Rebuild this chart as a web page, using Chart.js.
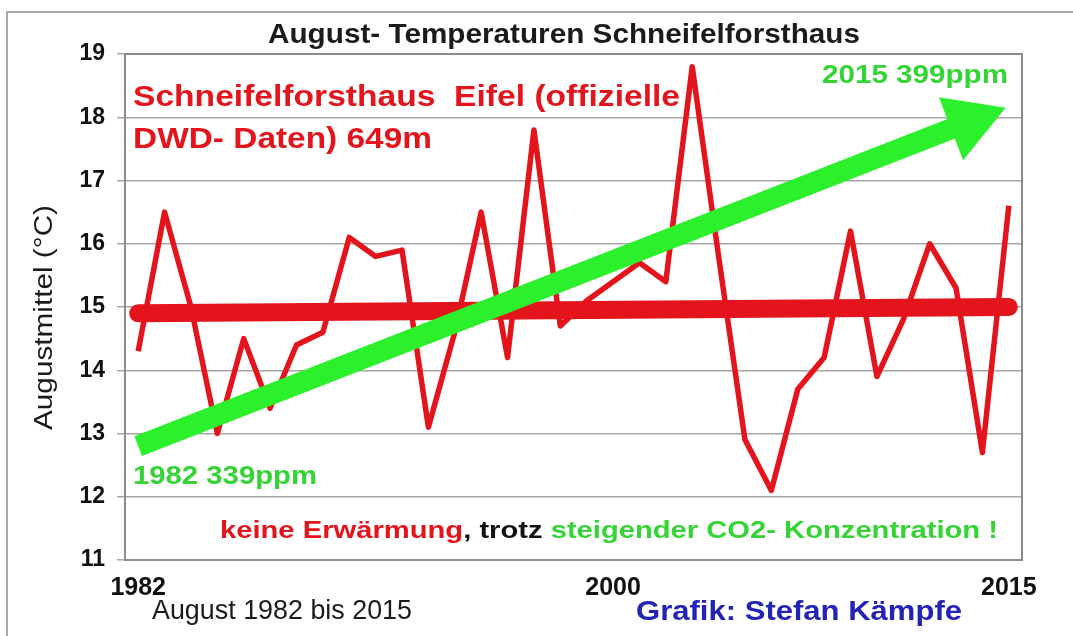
<!DOCTYPE html>
<html>
<head>
<meta charset="utf-8">
<title>August- Temperaturen Schneifelforsthaus</title>
<script src="https://cdn.jsdelivr.net/npm/chart.js@4"></script>
<style>
  html, body { margin: 0; padding: 0; background: #fff; }
  #chart { display: block; }
</style>
</head>
<body>
<canvas id="chart" width="1073" height="636"></canvas>
<script>
// August mean temperature, Schneifelforsthaus (DWD), °C
const years = [1982, 1983, 1984, 1985, 1986, 1987, 1988, 1989, 1990, 1991,
  1992, 1993, 1994, 1995, 1996, 1997, 1998, 1999, 2000, 2001, 2002, 2003,
  2004, 2005, 2006, 2007, 2008, 2009, 2010, 2011, 2012, 2013, 2014, 2015];
const augustTemp = [14.3, 16.5, 15.0, 13.0, 14.5, 13.4, 14.4, 14.6, 16.1, 15.8,
  15.9, 13.1, 14.6, 16.5, 14.2, 17.8, 14.7, 15.1, 15.4, 15.7, 15.4, 18.8,
  15.8, 12.9, 12.1, 13.7, 14.2, 16.2, 13.9, 14.8, 16.0, 15.3, 12.7, 16.6];

// linear trend (start / end)
const trendYears = [1982, 2015];
const trendTemp = [14.9, 15.0];

// CO2 arrow (schematic): shaft start, head position
const co2Years = [1982, 2013.5];
const co2Values = [12.8, 17.93];

const yTicks = [11, 12, 13, 14, 15, 16, 17, 18, 19];
const xTicks = [1982, 2000, 2015];

const RED = "#e3141c";
const GREEN = "#2cf02c";
const GREEN_TXT = "#33d433";
const FONT = "'Liberation Sans', Arial, sans-serif";

// draws text squeezed/stretched to a given width (the original uses wide fonts)
function fitText(ctx, parts, x, y, width, font) {
  ctx.font = font;
  const total = parts.reduce((s, p) => s + ctx.measureText(p.text).width, 0);
  ctx.save();
  ctx.translate(x, y);
  ctx.scale(width / total, 1);
  ctx.textAlign = "left";
  ctx.textBaseline = "middle";
  let cx = 0;
  parts.forEach(p => {
    ctx.fillStyle = p.color;
    ctx.fillText(p.text, cx, 0);
    cx += ctx.measureText(p.text).width;
  });
  ctx.restore();
}

const decor = {
  id: "decor",
  beforeDraw(chart) {
    const ctx = chart.ctx;
    ctx.save();
    ctx.fillStyle = "#fff";
    ctx.fillRect(0, 0, chart.width, chart.height);
    ctx.strokeStyle = "#a8a8a8";
    ctx.lineWidth = 2;
    ctx.strokeRect(7, 12, chart.width + 10, chart.height + 10);
    ctx.restore();
  },
  beforeDatasetsDraw(chart) {
    const { ctx, chartArea: a } = chart;
    ctx.save();
    ctx.strokeStyle = "#8c8c8c";
    ctx.lineWidth = 2;
    ctx.strokeRect(a.left, a.top, a.right - a.left, a.bottom - a.top);
    ctx.restore();
  },
  afterDraw(chart) {
    const ctx = chart.ctx;
    const bold = "bold 29px " + FONT;
    fitText(ctx, [{ text: "August- Temperaturen Schneifelforsthaus", color: "#1b1b1b" }],
      268, 35, 592, "bold 28px " + FONT);
    fitText(ctx, [{ text: "Schneifelforsthaus  Eifel (offizielle", color: RED }], 133, 98, 547, bold);
    fitText(ctx, [{ text: "DWD- Daten) 649m", color: RED }], 133, 140, 299, bold);
    fitText(ctx, [{ text: "2015 399ppm", color: GREEN_TXT }], 822, 76, 186, "bold 25px " + FONT);
    fitText(ctx, [{ text: "1982 339ppm", color: GREEN_TXT }], 133, 477, 184, "bold 25px " + FONT);
    fitText(ctx, [
      { text: "keine Erwärmung", color: RED },
      { text: ", trotz ", color: "#111" },
      { text: "steigender CO2- Konzentration !", color: GREEN_TXT }
    ], 220, 531, 778, "bold 24px " + FONT);
    fitText(ctx, [{ text: "August 1982 bis 2015", color: "#1b1b1b" }], 152, 612, 260, "27px " + FONT);
    fitText(ctx, [{ text: "Grafik: Stefan Kämpfe", color: "#2323b6" }], 636, 612, 326, "bold 28px " + FONT);

    // y axis title, rotated
    ctx.save();
    ctx.translate(45, 318);
    ctx.rotate(-Math.PI / 2);
    fitText(ctx, [{ text: "Augustmittel (°C)", color: "#1b1b1b" }], -112, 0, 225, "25px " + FONT);
    ctx.restore();
  }
};

new Chart(document.getElementById("chart"), {
  type: "line",
  data: {
    datasets: [
      {
        label: "Augustmittel",
        data: years.map((y, i) => ({ x: y, y: augustTemp[i] })),
        borderColor: RED,
        borderWidth: 5.5,
        borderJoinStyle: "round",
        pointRadius: 0,
        tension: 0,
        order: 4
      },
      {
        label: "Trend",
        data: trendYears.map((y, i) => ({ x: y, y: trendTemp[i] })),
        borderColor: RED,
        borderWidth: 18,
        borderCapStyle: "round",
        pointRadius: 0,
        order: 3
      },
      {
        label: "CO2",
        data: co2Years.map((y, i) => ({ x: y, y: co2Values[i] })),
        borderColor: GREEN,
        borderWidth: 21,
        borderCapStyle: "butt",
        pointRadius: 0,
        order: 2
      },
      {
        label: "CO2 head",
        data: [{ x: co2Years[1], y: co2Values[1] }],
        showLine: false,
        pointStyle: "triangle",
        pointRadius: 39,
        pointRotation: 69,
        pointBackgroundColor: GREEN,
        pointBorderWidth: 0,
        order: 1
      }
    ]
  },
  options: {
    responsive: false,
    animation: false,
    events: [],
    layout: { padding: { top: 54, right: 51, bottom: 0, left: 0 } },
    plugins: { legend: { display: false }, tooltip: { enabled: false } },
    scales: {
      x: {
        type: "linear",
        min: 1981.5,
        max: 2015.5,
        afterBuildTicks: s => { s.ticks = xTicks.map(v => ({ value: v })); },
        afterFit: s => { s.height = 76; },
        grid: { display: false, drawTicks: false },
        border: { display: false },
        ticks: {
          autoSkip: false,
          maxRotation: 0,
          padding: 13,
          color: "#111",
          font: { family: FONT, size: 25, weight: "bold" },
          callback: v => String(v)
        }
      },
      y: {
        min: 11,
        max: 19,
        afterBuildTicks: s => { s.ticks = yTicks.map(v => ({ value: v })); },
        afterFit: s => { s.width = 125; },
        grid: { color: "#a6a6a6", lineWidth: 1.5, tickLength: 8 },
        border: { display: false },
        ticks: {
          padding: 12,
          color: "#111",
          font: { family: FONT, size: 23, weight: "bold" }
        }
      }
    }
  },
  plugins: [decor]
});
</script>
</body>
</html>
